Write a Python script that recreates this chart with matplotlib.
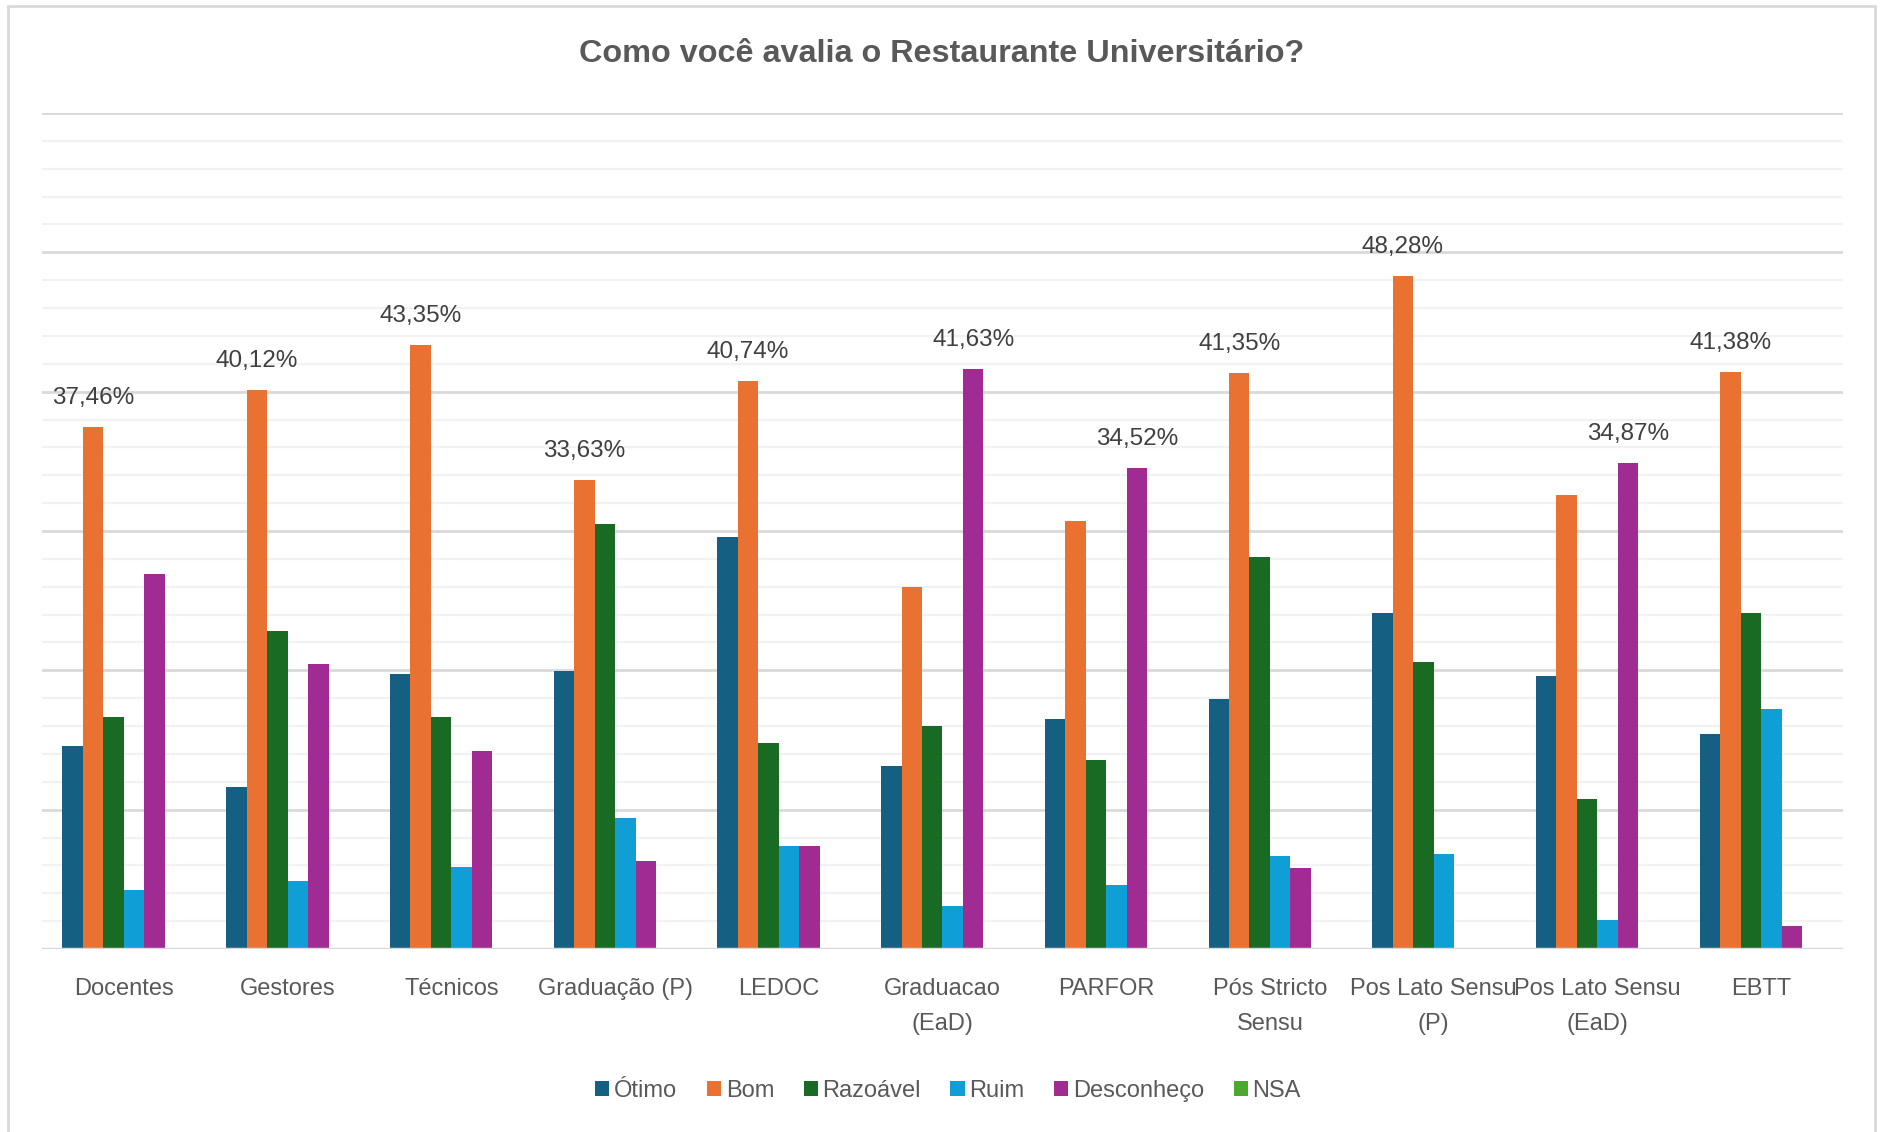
import numpy as np
import matplotlib.pyplot as plt
from matplotlib.patches import Patch, Rectangle
from matplotlib.ticker import MultipleLocator

plt.rcParams['font.family'] = ['Liberation Sans', 'DejaVu Sans']

# Dados (percentuais)
categorias = ['Docentes', 'Gestores', 'Técnicos', 'Graduação (P)', 'LEDOC',
              'Graduacao\n(EaD)', 'PARFOR', 'Pós Stricto\nSensu',
              'Pos Lato Sensu\n(P)', 'Pos Lato Sensu\n(EaD)', 'EBTT']
otimo      = [14.54, 11.64, 19.72, 19.93, 29.59, 13.10, 16.49, 17.93, 24.10, 19.62, 15.46]
bom        = [37.46, 40.12, 43.35, 33.63, 40.74, 26.00, 30.70, 41.35, 48.28, 32.60, 41.38]
razoavel   = [16.67, 22.85, 16.67, 30.50, 14.77, 16.00, 13.54, 28.13, 20.60, 10.75, 24.10]
ruim       = [4.23, 4.90, 5.90, 9.41, 7.37, 3.11, 4.57, 6.70, 6.83, 2.11, 17.26]
desconheco = [26.90, 20.42, 14.20, 6.34, 7.37, 41.63, 34.52, 5.82, 0.00, 34.87, 1.65]
nsa        = [0, 0, 0, 0, 0, 0, 0, 0, 0, 0, 0]

nomes = ['Ótimo', 'Bom', 'Razoável', 'Ruim', 'Desconheço', 'NSA']
cores = ['#156082', '#E97132', '#196B24', '#0F9ED5', '#A02B93', '#4EA72E']
series = [otimo, bom, razoavel, ruim, desconheco, nsa]

cinza = '#595959'

fig = plt.figure(figsize=(18.83, 11.32), dpi=100)
ax = fig.add_axes([42 / 1883, 1 - 949 / 1132, 1801 / 1883, 836 / 1132])

x = np.arange(len(categorias))
w = 0.125
for i, (vals, cor) in enumerate(zip(series, cores)):
    ax.bar(x + (i - 2.5) * w, vals, width=w, color=cor, zorder=3)

# rótulo só no maior valor de cada grupo
tabela = np.array(series)
for j in range(len(categorias)):
    i = int(np.argmax(tabela[:, j]))
    v = tabela[i, j]
    ax.annotate(f'{v:.2f}%'.replace('.', ','), xy=(x[j] + (i - 2.5) * w, v),
                xytext=(0, 23), textcoords='offset pixels',
                ha='center', va='baseline', fontsize=17.5, color='#404040')

ax.set_xlim(-0.5, len(categorias) - 0.5)
ax.set_ylim(0, 60)
ax.yaxis.set_major_locator(MultipleLocator(10))
ax.yaxis.set_minor_locator(MultipleLocator(2))
ax.grid(axis='y', which='major', color='#D9D9D9', lw=2, zorder=0)
ax.grid(axis='y', which='minor', color='#F2F2F2', lw=1.6, zorder=0)
ax.tick_params(axis='y', which='both', left=False, labelleft=False)
ax.set_xticks(x)
ax.set_xticklabels(categorias, fontsize=17, color=cinza, linespacing=1.75)
ax.tick_params(axis='x', length=0, pad=21)
for s in ax.spines.values():
    s.set_visible(False)
ax.axhline(0, color='#D9D9D9', lw=2.5, zorder=4)

fig.text(0.5, 1 - 54 / 1132, 'Como você avalia o Restaurante Universitário?',
         ha='center', va='center', fontsize=23.3, fontweight='bold', color=cinza)

handles = [Patch(facecolor=c, edgecolor='none') for c in cores]
fig.legend(handles, nomes, loc='center', bbox_to_anchor=(948 / 1883, 1 - 1091 / 1132),
           ncol=6, frameon=False, fontsize=17, handlelength=0.6, handleheight=0.6,
           handletextpad=0.2, columnspacing=1.25, labelcolor=cinza)

# moldura do gráfico
fig.add_artist(Rectangle((8 / 1883, -0.02), 1867 / 1883, 1.02 - 6 / 1132,
                         transform=fig.transFigure, fill=False,
                         edgecolor='#D9D9D9', lw=2))

fig.savefig('out.png', dpi=100, facecolor='white')
